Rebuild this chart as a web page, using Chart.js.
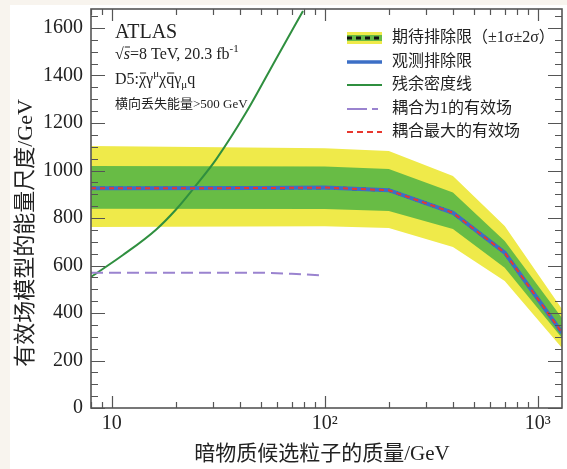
<!DOCTYPE html>
<html lang="zh">
<head>
<meta charset="UTF-8">
<title>有效场模型的能量尺度</title>
<script src="https://cdn.jsdelivr.net/npm/chart.js"></script>
<style>
  html, body { margin: 0; padding: 0; background: #f8f4ee; }
  #wrap { position: absolute; left: 10px; top: 5px; width: 557px; height: 464px; background: #fff; }
</style>
</head>
<body>
<div id="wrap"><canvas id="c" width="557" height="464"></canvas></div>
<script>
// 期待/观测排除限
const masses = [8, 10, 50, 100, 200, 400, 700, 1300];
const expected = [925, 925, 926, 928, 917, 822, 654, 317];
const observed = [925, 925, 926, 928, 917, 822, 654, 317];
// ±1σ ±2σ 带
const bandMass = [8, 100, 200, 400, 700, 1300];
const yellowHi = [1103, 1094, 1082, 977, 766, 417];
const greenHi = [1019, 1017, 1006, 907, 703, 379];
const greenLo = [839, 838, 829, 754, 591, 295];
const yellowLo = [762, 765, 758, 678, 535, 253];
// 残余密度线
const relicMass = [8, 11.3, 16.2, 20.1, 24.5, 31, 42.9, 59.3, 79.1];
const relic = [552, 644, 752, 837, 930, 1048, 1246, 1472, 1672];
// 耦合为1的有效场
const unitMass = [8, 20, 50, 70, 100];
const unitCoupling = [570, 570, 570, 565, 558];

const xTicks = [10, 100, 1000];
const xTickLabels = ['10', '10²', '10³'];
const yTicks = [0, 200, 400, 600, 800, 1000, 1200, 1400, 1600];

const legendItems = ['期待排除限（±1σ±2σ）', '观测排除限', '残余密度线', '耦合为1的有效场', '耦合最大的有效场'];

const YELLOW = '#efea4a', GREEN = '#68bc45', BLUE = '#3c6fc6', RED = '#e8372e',
      RELIC = '#2f8f3f', PURPLE = '#9a83cf', FRAME = '#555';
const SERIF = '"Liberation Serif", "DejaVu Serif", serif';
const CJK = '"Liberation Serif", "Noto Sans CJK SC", serif';

const pts = (xs, ys) => xs.map((x, i) => ({ x: x, y: ys[i] }));

function richText(ctx, x, y, segs) {
  segs.forEach(s => {
    ctx.font = s.font;
    const w = ctx.measureText(s.t).width;
    ctx.fillText(s.t, x, y + (s.dy || 0));
    if (s.over) {
      ctx.beginPath();
      ctx.moveTo(x + 1, y - s.over);
      ctx.lineTo(x + w, y - s.over);
      ctx.stroke();
    }
    x += w;
  });
}

const decor = {
  id: 'decor',
  afterDatasetsDraw(chart) {
    const { ctx, chartArea: a, scales: { x, y } } = chart;
    ctx.save();
    ctx.strokeStyle = FRAME;
    ctx.lineWidth = 1.2;
    // x 刻度
    const xMinor = [8, 9, 20, 30, 40, 50, 60, 70, 80, 90, 200, 300, 400, 500, 600, 700, 800, 900];
    ctx.beginPath();
    xMinor.concat(xTicks).forEach(v => {
      const px = Math.round(x.getPixelForValue(v)) + 0.5;
      const len = xTicks.includes(v) ? 12 : 6;
      ctx.moveTo(px, a.bottom); ctx.lineTo(px, a.bottom - len);
      ctx.moveTo(px, a.top); ctx.lineTo(px, a.top + len);
    });
    // y 刻度
    for (let v = 0; v <= 1650; v += 50) {
      const py = Math.round(y.getPixelForValue(v)) + 0.5;
      const len = v % 200 === 0 ? 14 : 7;
      ctx.moveTo(a.left, py); ctx.lineTo(a.left + len, py);
      ctx.moveTo(a.right, py); ctx.lineTo(a.right - len, py);
    }
    ctx.stroke();
    ctx.lineWidth = 1.6;
    ctx.strokeRect(a.left, a.top, a.right - a.left, a.bottom - a.top);

    // 文字说明
    ctx.fillStyle = '#222';
    ctx.strokeStyle = '#222';
    ctx.lineWidth = 1;
    ctx.textBaseline = 'alphabetic';
    ctx.textAlign = 'left';
    ctx.font = '20px ' + SERIF;
    ctx.fillText('ATLAS', 105, 33);
    const f = '16px ' + SERIF, sm = '11px ' + SERIF;
    richText(ctx, 105, 54, [
      { t: '√', font: f }, { t: 's', font: 'italic ' + f, over: 12 },
      { t: '=8 TeV, 20.3 fb', font: f }, { t: '-1', font: sm, dy: -7 }
    ]);
    richText(ctx, 105, 79, [
      { t: 'D5:', font: f }, { t: 'χ', font: f, over: 11 }, { t: 'γ', font: f },
      { t: 'μ', font: sm, dy: -7 }, { t: 'χ', font: f }, { t: 'q', font: f, over: 11 },
      { t: 'γ', font: f }, { t: 'μ', font: sm, dy: 4 }, { t: 'q', font: f }
    ]);
    ctx.font = '13px ' + CJK;
    ctx.fillText('横向丢失能量>500 GeV', 105, 103);

    // 图例
    const lx0 = 337, lx1 = 372, rows = [33, 57, 80, 104, 127];
    ctx.fillStyle = YELLOW; ctx.fillRect(lx0, rows[0] - 6, lx1 - lx0, 12);
    ctx.fillStyle = GREEN; ctx.fillRect(lx0, rows[0] - 3, lx1 - lx0, 6);
    const seg = (yy, color, w, dash) => {
      ctx.beginPath();
      ctx.strokeStyle = color; ctx.lineWidth = w; ctx.setLineDash(dash);
      ctx.moveTo(lx0, yy); ctx.lineTo(lx1, yy); ctx.stroke();
    };
    seg(rows[0], '#111', 3, [5, 4]);
    seg(rows[1], BLUE, 3.5, []);
    seg(rows[2], RELIC, 2, []);
    seg(rows[3], PURPLE, 2, [20, 5, 6, 50]);
    seg(rows[4], RED, 2, [6, 4]);
    ctx.setLineDash([]);
    ctx.fillStyle = '#222';
    ctx.font = '16px ' + CJK;
    ctx.textBaseline = 'middle';
    legendItems.forEach((t, i) => ctx.fillText(t, 382, rows[i]));

    // 轴标题
    ctx.font = '21px ' + CJK;
    ctx.textAlign = 'center';
    ctx.fillText('暗物质候选粒子的质量/GeV', 312, 449);
    ctx.font = '22px ' + CJK;
    ctx.translate(16, 228);
    ctx.rotate(-Math.PI / 2);
    ctx.fillText('有效场模型的能量尺度/GeV', 0, 0);
    ctx.restore();
  }
};

const line = (label, xs, ys, color, width, dash, order) => ({
  label: label, data: pts(xs, ys), borderColor: color, borderWidth: width,
  borderDash: dash, pointRadius: 0, fill: false, order: order, tension: 0
});

new Chart(document.getElementById('c'), {
  type: 'line',
  data: {
    datasets: [
      { label: '2σ上', data: pts(bandMass, yellowHi), borderWidth: 0, pointRadius: 0,
        backgroundColor: YELLOW, fill: '+1', order: 10 },
      { label: '2σ下', data: pts(bandMass, yellowLo), borderWidth: 0, pointRadius: 0, fill: false, order: 10 },
      { label: '1σ上', data: pts(bandMass, greenHi), borderWidth: 0, pointRadius: 0,
        backgroundColor: GREEN, fill: '+1', order: 9 },
      { label: '1σ下', data: pts(bandMass, greenLo), borderWidth: 0, pointRadius: 0, fill: false, order: 9 },
      Object.assign(line('残余密度线', relicMass, relic, RELIC, 2, [], 5), { cubicInterpolationMode: 'monotone' }),
      line('耦合为1的有效场', unitMass, unitCoupling, PURPLE, 2, [12, 6], 4),
      line('期待排除限', masses, expected, '#111', 3, [5, 4], 3),
      line('观测排除限', masses, observed, BLUE, 4, [], 2),
      line('耦合最大的有效场', masses, observed, RED, 2, [5, 4], 1)
    ]
  },
  options: {
    responsive: false,
    animation: false,
    layout: { padding: { top: 4, right: 5, left: 0, bottom: 0 } },
    plugins: { legend: { display: false }, tooltip: { enabled: false } },
    scales: {
      x: {
        type: 'logarithmic', min: 8, max: 1300,
        grid: { display: false, drawTicks: false },
        border: { display: false },
        afterBuildTicks: s => { s.ticks = xTicks.map(v => ({ value: v })); },
        afterFit: s => { s.height = 61; s.paddingLeft = 0; s.paddingRight = 0; },
        ticks: {
          padding: 4, autoSkip: false, maxRotation: 0, color: '#222',
          font: { family: SERIF, size: 20 },
          callback: v => xTickLabels[xTicks.indexOf(v)]
        }
      },
      y: {
        type: 'linear', min: 0, max: 1680,
        grid: { display: false, drawTicks: false },
        border: { display: false },
        afterBuildTicks: s => { s.ticks = yTicks.map(v => ({ value: v })); },
        afterFit: s => { s.width = 81; s.paddingTop = 0; s.paddingBottom = 0; },
        ticks: { padding: 8, color: '#222', font: { family: SERIF, size: 20 }, callback: v => String(v) }
      }
    }
  },
  plugins: [decor]
});
</script>
</body>
</html>
